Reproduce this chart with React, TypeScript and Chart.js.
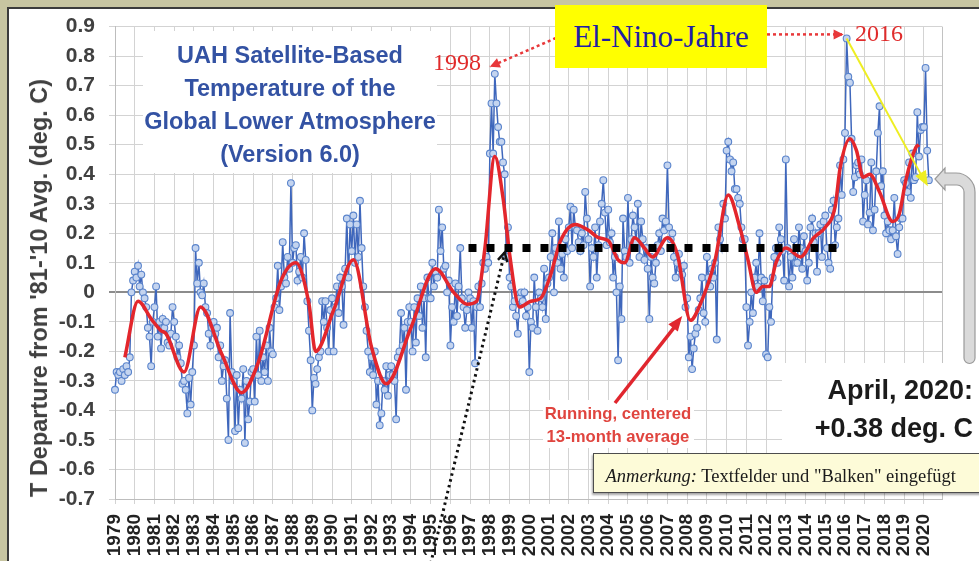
import { useEffect, useRef } from "react";
import { Chart, registerables } from "chart.js";

Chart.register(...registerables);

// ---------- data ----------
const yearLabels: string[] = [
  "1979", "1980", "1981", "1982", "1983", "1984", "1985", "1986", "1987", "1988",
  "1989", "1990", "1991", "1992", "1993", "1994", "1995", "1996", "1997", "1998",
  "1999", "2000", "2001", "2002", "2003", "2004", "2005", "2006", "2007", "2008",
  "2009", "2010", "2011", "2012", "2013", "2014", "2015", "2016", "2017", "2018",
  "2019", "2020",
];

// monthly anomaly (deg. C), Jan 1979 .. Apr 2020
const monthlyAnomaly: number[] = [
  -0.33, -0.27, -0.28, -0.27, -0.30, -0.26, -0.28, -0.25, -0.27, -0.22, 0.00, 0.04,
  0.07, 0.05, 0.09, 0.02, 0.06, 0.00, -0.02, -0.05, -0.12, -0.15, -0.25, -0.10,
  -0.05, 0.02, -0.15, -0.10, -0.19, -0.09, -0.12, -0.10, -0.17, -0.18, -0.14, -0.05,
  -0.10, -0.15, -0.22, -0.18, -0.24, -0.31, -0.30, -0.33, -0.41, -0.29, -0.38, -0.27,
  -0.18, 0.15, 0.03, 0.10, 0.00, -0.01, 0.03, -0.05, -0.07, -0.14, -0.18, -0.12,
  -0.10, -0.14, -0.12, -0.22, -0.18, -0.30, -0.25, -0.23, -0.36, -0.50, -0.07, -0.27,
  -0.30, -0.47, -0.28, -0.46, -0.33, -0.36, -0.26, -0.51, -0.30, -0.43, -0.37, -0.27,
  -0.26, -0.37, -0.15, -0.28, -0.13, -0.30, -0.22, -0.27, -0.18, -0.30, -0.12, -0.20,
  -0.21, -0.05, -0.02, 0.09, -0.06, 0.02, 0.17, 0.05, 0.03, 0.12, 0.08, 0.37,
  0.10, 0.15, 0.16, 0.04, 0.07, 0.12, 0.05, 0.20, 0.11, -0.03, -0.13, -0.23,
  -0.40, -0.29, -0.31, -0.26, -0.22, -0.20, -0.03, -0.10, -0.03, -0.12, -0.20, -0.06,
  -0.02, -0.20, -0.05, 0.02, -0.07, 0.05, 0.02, -0.11, 0.08, 0.25, 0.05, 0.23,
  0.14, 0.26, 0.10, 0.23, 0.12, 0.31, 0.15, 0.02, -0.05, -0.13, -0.20, -0.27,
  -0.22, -0.28, -0.20, -0.38, -0.30, -0.45, -0.41, -0.30, -0.33, -0.25, -0.35, -0.28,
  -0.25, -0.28, -0.30, -0.43, -0.22, -0.20, -0.07, -0.18, -0.12, -0.33, -0.10, -0.05,
  -0.10, -0.20, -0.05, -0.17, -0.02, -0.08, 0.02, -0.12, -0.02, -0.22, 0.05, -0.02,
  -0.02, 0.10, 0.02, 0.07, 0.05, 0.28, 0.14, 0.22, 0.08, 0.09, 0.00, 0.04,
  -0.18, -0.05, -0.10, 0.03, -0.08, 0.02, 0.15, -0.02, -0.05, -0.12, -0.06, 0.00,
  -0.02, -0.12, -0.03, -0.24, -0.05, 0.02, -0.05, 0.03, 0.10, 0.08, 0.12, 0.10,
  0.47, 0.64, 0.47, 0.74, 0.64, 0.56, 0.51, 0.51, 0.44, 0.40, 0.12, 0.22,
  0.05, 0.02, -0.05, -0.03, -0.08, -0.14, -0.02, 0.00, -0.03, 0.00, -0.08, -0.05,
  -0.27, -0.10, -0.12, 0.05, -0.05, -0.13, 0.00, -0.02, -0.05, 0.08, -0.09, 0.03,
  0.05, 0.12, 0.20, 0.00, 0.15, 0.10, 0.24, 0.08, 0.13, 0.05, 0.18, 0.14,
  0.22, 0.29, 0.15, 0.28, 0.22, 0.21, 0.17, 0.14, 0.20, 0.16, 0.34, 0.25,
  0.18, 0.02, 0.15, 0.12, 0.22, 0.05, 0.16, 0.24, 0.30, 0.38, 0.27, 0.16,
  0.28, 0.17, 0.20, 0.05, 0.12, 0.00, -0.23, 0.02, -0.09, 0.25, 0.14, 0.12,
  0.32, 0.10, 0.18, 0.26, 0.22, 0.17, 0.30, 0.12, 0.24, 0.18, 0.11, 0.15,
  0.08, -0.09, 0.12, 0.05, 0.03, 0.10, 0.16, 0.20, 0.14, 0.25, 0.21, 0.24,
  0.43, 0.22, 0.18, 0.20, 0.12, 0.05, 0.10, 0.13, 0.08, 0.06, 0.09, -0.05,
  -0.02, -0.22, -0.15, -0.26, -0.19, -0.14, -0.12, -0.06, -0.02, 0.05, -0.07, -0.10,
  0.12, 0.05, 0.02, 0.08, 0.05, 0.10, -0.16, 0.22, 0.18, 0.15, 0.30, 0.25,
  0.48, 0.51, 0.45, 0.41, 0.44, 0.35, 0.35, 0.32, 0.30, 0.22, 0.18, 0.18,
  -0.05, -0.18, -0.10, 0.00, -0.07, 0.05, 0.10, 0.02, 0.20, 0.05, -0.03, 0.04,
  -0.21, -0.22, -0.05, -0.10, 0.05, 0.12, 0.15, 0.10, 0.22, 0.18, 0.14, 0.04,
  0.45, 0.15, 0.02, 0.12, 0.05, 0.18, 0.10, 0.10, 0.22, 0.15, 0.08, 0.19,
  0.14, 0.04, 0.10, 0.22, 0.25, 0.17, 0.20, 0.07, 0.20, 0.23, 0.12, 0.24,
  0.26, 0.15, 0.10, 0.08, 0.28, 0.31, 0.16, 0.22, 0.25, 0.43, 0.33, 0.45,
  0.54, 0.86, 0.73, 0.71, 0.52, 0.34, 0.39, 0.43, 0.44, 0.40, 0.45, 0.24,
  0.33, 0.38, 0.23, 0.27, 0.44, 0.21, 0.28, 0.41, 0.54, 0.63, 0.36, 0.41,
  0.26, 0.20, 0.24, 0.21, 0.18, 0.21, 0.32, 0.19, 0.13, 0.22, 0.25, 0.25,
  0.38, 0.37, 0.34, 0.44, 0.32, 0.47, 0.38, 0.39, 0.61, 0.46, 0.55, 0.56,
  0.56, 0.76, 0.48, 0.38,
];

// running, centered 13-month average, month index since Jan 1979
const runningMonths: number[] = [
  6, 14, 22, 28, 31, 42, 52, 65, 77, 87, 101, 110, 118, 122, 133, 145, 156, 165, 180, 195,
  206, 214, 220, 225, 231, 236, 240, 246, 253, 259, 265, 271, 280, 288, 294, 300, 306, 310,
  316, 322, 327, 336, 342, 350, 356, 365, 373, 380, 385, 390, 394, 398, 402, 408, 417, 425,
  432, 438, 441, 447, 451, 455, 459, 465, 473, 477, 481, 487, 489,
];
const runningValues: number[] = [
  -0.22, -0.03, -0.09, -0.13, -0.14, -0.27, -0.05, -0.21, -0.34, -0.24, 0.04, 0.10, -0.04, -0.20,
  -0.06, 0.11, -0.185, -0.31, -0.12, 0.08, 0.0, -0.04, -0.03, 0.15, 0.46, 0.32, 0.13, -0.05,
  -0.03, -0.02, 0.06, 0.175, 0.23, 0.21, 0.185, 0.175, 0.11, 0.10, 0.185, 0.15, 0.12, 0.185,
  0.13, -0.095, -0.04, 0.11, 0.33, 0.22, 0.11, 0.0, 0.02, 0.02, 0.10, 0.15, 0.12, 0.185, 0.22,
  0.29, 0.42, 0.52, 0.48, 0.39, 0.40, 0.34, 0.24, 0.265, 0.38, 0.49, 0.50,
];

const yMin = -0.7;
const yMax = 0.9;
const yStep = 0.1;
const xMaxMonth = 503;

// "Balken" (dotted bar) and annotation anchors
const barValue = 0.15;
const barStartMonth = 215;
const barEndMonth = 442;
const peak1998Month = 231;
const peak2016Month = 445;
const lastMonth = 495;
const dipArrowMonth = 345;
const dipArrowValue = -0.08;
const barArrowMonth = 237;
const barArrowValue = 0.135;

// ---------- helpers ----------
function arrowHead(
  ctx: CanvasRenderingContext2D,
  fx: number, fy: number, tx: number, ty: number,
  len: number, half: number, color: string
) {
  const a = Math.atan2(ty - fy, tx - fx);
  ctx.save();
  ctx.setLineDash([]);
  ctx.fillStyle = color;
  ctx.beginPath();
  ctx.moveTo(tx, ty);
  ctx.lineTo(tx - len * Math.cos(a) + half * Math.sin(a), ty - len * Math.sin(a) - half * Math.cos(a));
  ctx.lineTo(tx - len * Math.cos(a) - half * Math.sin(a), ty - len * Math.sin(a) + half * Math.cos(a));
  ctx.closePath();
  ctx.fill();
  ctx.restore();
}

const decorPlugin = {
  id: "decor",
  beforeDraw(chart: any) {
    const { ctx, width, height } = chart;
    ctx.save();
    ctx.fillStyle = "#c7c5a1";
    ctx.fillRect(0, 0, width, height);
    ctx.fillStyle = "#ffffff";
    ctx.fillRect(8, 8, width - 8, height - 8);
    ctx.strokeStyle = "#3b3b3b";
    ctx.lineWidth = 2;
    ctx.beginPath();
    ctx.moveTo(8, height);
    ctx.lineTo(8, 8);
    ctx.lineTo(width, 8);
    ctx.stroke();
    ctx.restore();
  },
  beforeDatasetsDraw(chart: any) {
    const { ctx, chartArea } = chart;
    ctx.save();
    ctx.fillStyle = "#ffffff";
    ctx.fillRect(143, 31, 294, 142);
    ctx.fillRect(543, 400, 151, 48);
    ctx.fillRect(782, 363, 197, 90);
    ctx.strokeStyle = "#c2c2c2";
    ctx.lineWidth = 1;
    ctx.beginPath();
    ctx.moveTo(chartArea.right + 0.5, chartArea.top);
    ctx.lineTo(chartArea.right + 0.5, 363);
    ctx.moveTo(chartArea.right + 0.5, 453);
    ctx.lineTo(chartArea.right + 0.5, chartArea.bottom);
    ctx.stroke();
    ctx.restore();
  },
  afterDatasetsDraw(chart: any) {
    const { ctx } = chart;
    const xs = chart.scales.x;
    const ys = chart.scales.y;
    ctx.save();

    // dotted black bar
    ctx.strokeStyle = "#000000";
    ctx.lineWidth = 8;
    ctx.setLineDash([8, 10]);
    ctx.lineCap = "butt";
    ctx.beginPath();
    ctx.moveTo(xs.getPixelForValue(barStartMonth), ys.getPixelForValue(barValue));
    ctx.lineTo(xs.getPixelForValue(barEndMonth), ys.getPixelForValue(barValue));
    ctx.stroke();

    // red dotted arrows from the El-Nino box
    const red = "#e8383a";
    ctx.strokeStyle = red;
    ctx.lineWidth = 2.5;
    ctx.setLineDash([3, 3]);
    const p98x = xs.getPixelForValue(peak1998Month) - 5;
    const p98y = ys.getPixelForValue(monthlyAnomaly[peak1998Month]) - 7;
    ctx.beginPath();
    ctx.moveTo(556, 38);
    ctx.lineTo(p98x, p98y);
    ctx.stroke();
    arrowHead(ctx, 556, 38, p98x, p98y, 10, 5, red);

    const p16x = xs.getPixelForValue(peak2016Month) - 3;
    const p16y = ys.getPixelForValue(monthlyAnomaly[peak2016Month]) - 4;
    ctx.beginPath();
    ctx.moveTo(767, p16y);
    ctx.lineTo(p16x, p16y);
    ctx.stroke();
    arrowHead(ctx, 767, p16y, p16x, p16y, 10, 5, red);

    // yellow arrow from 2016 peak to the latest month
    const yfx = xs.getPixelForValue(peak2016Month);
    const yfy = ys.getPixelForValue(monthlyAnomaly[peak2016Month]);
    const ytx = xs.getPixelForValue(lastMonth) - 1;
    const yty = ys.getPixelForValue(monthlyAnomaly[lastMonth]) + 6;
    ctx.setLineDash([]);
    ctx.strokeStyle = "#eeee22";
    ctx.lineWidth = 2;
    ctx.beginPath();
    ctx.moveTo(yfx, yfy);
    ctx.lineTo(ytx - 6, yty - 10);
    ctx.stroke();
    arrowHead(ctx, yfx, yfy, ytx, yty, 15, 6, "#eeee22");

    // red solid arrow from the "Running" label
    const dtx = xs.getPixelForValue(dipArrowMonth);
    const dty = ys.getPixelForValue(dipArrowValue);
    ctx.strokeStyle = "#e0262e";
    ctx.lineWidth = 3.5;
    ctx.beginPath();
    ctx.moveTo(615, 403);
    ctx.lineTo(dtx - 6, dty + 9);
    ctx.stroke();
    arrowHead(ctx, 615, 403, dtx, dty, 15, 6, "#e0262e");

    // black dotted arrow up to the bar
    const btx = xs.getPixelForValue(barArrowMonth);
    const bty = ys.getPixelForValue(barArrowValue);
    ctx.strokeStyle = "#111111";
    ctx.lineWidth = 3;
    ctx.setLineDash([2.5, 3.5]);
    ctx.beginPath();
    ctx.moveTo(428, 575);
    ctx.lineTo(btx, bty);
    ctx.stroke();
    ctx.setLineDash([]);
    ctx.lineWidth = 2.5;
    const ba = Math.atan2(bty - 575, btx - 428);
    ctx.beginPath();
    ctx.moveTo(btx - 10 * Math.cos(ba - 0.5), bty - 10 * Math.sin(ba - 0.5));
    ctx.lineTo(btx, bty);
    ctx.lineTo(btx - 10 * Math.cos(ba + 0.5), bty - 10 * Math.sin(ba + 0.5));
    ctx.stroke();

    // grey curved arrow at the right
    ctx.fillStyle = "#dadada";
    ctx.strokeStyle = "#9a9a9a";
    ctx.lineWidth = 1.2;
    ctx.beginPath();
    ctx.moveTo(935, 179);
    ctx.lineTo(945, 168);
    ctx.lineTo(945, 173);
    ctx.lineTo(956, 173);
    ctx.arcTo(975, 173, 975, 192, 19);
    ctx.lineTo(975, 358);
    ctx.arc(969.5, 358, 5.5, 0, Math.PI);
    ctx.lineTo(964, 192);
    ctx.arcTo(964, 185, 957, 185, 7);
    ctx.lineTo(945, 185);
    ctx.lineTo(945, 190);
    ctx.closePath();
    ctx.fill();
    ctx.stroke();

    ctx.restore();
  },
};

const sans = "'Liberation Sans', Arial, sans-serif";
const serif = "'Liberation Serif', 'Times New Roman', serif";

export default function App() {
  const canvasRef = useRef<HTMLCanvasElement | null>(null);

  useEffect(() => {
    if (!canvasRef.current) return;
    const chart = new Chart(canvasRef.current, {
      type: "line",
      data: {
        datasets: [
          {
            label: "Running, centered 13-month average",
            data: runningMonths.map((m, i) => ({ x: m, y: runningValues[i] })),
            borderColor: "#e3262c",
            borderWidth: 3.5,
            pointRadius: 0,
            cubicInterpolationMode: "monotone",
            fill: false,
          },
          {
            label: "UAH monthly",
            data: monthlyAnomaly.map((v, i) => ({ x: i, y: v })),
            borderColor: "#3f67bc",
            borderWidth: 1.5,
            pointRadius: 3.4,
            pointBackgroundColor: "#c4d4ef",
            pointBorderColor: "#5a84cc",
            pointBorderWidth: 1.1,
            tension: 0,
            fill: false,
            clip: false,
          },
        ],
      } as any,
      options: {
        animation: false,
        responsive: true,
        maintainAspectRatio: false,
        events: [],
        layout: { padding: { left: 0, right: 37, top: 25, bottom: 0 } },
        plugins: { legend: { display: false }, tooltip: { enabled: false } },
        scales: {
          x: {
            type: "linear",
            min: 0,
            max: xMaxMonth,
            afterBuildTicks: (scale: any) => {
              scale.ticks = yearLabels.map((_, i) => ({ value: i * 12 }));
            },
            afterFit: (scale: any) => {
              scale.height = 62;
            },
            ticks: {
              autoSkip: false,
              minRotation: 90,
              maxRotation: 90,
              padding: 10,
              color: "#222222",
              font: { family: sans, size: 19, weight: "bold" },
              callback: (v: any) => yearLabels[Math.round(Number(v) / 12)] ?? "",
            },
            grid: { color: "#d3d3d3", lineWidth: 1, tickLength: 5 },
            border: { color: "#bdbdbd", width: 1 },
          },
          y: {
            type: "linear",
            min: yMin,
            max: yMax,
            afterFit: (scale: any) => {
              scale.width = 115;
            },
            ticks: {
              stepSize: yStep,
              padding: 14,
              color: "#404040",
              font: { family: sans, size: 21, weight: "bold" },
              callback: (v: any) => {
                const n = Number(v);
                return Math.abs(n) < 1e-6 ? "0" : n.toFixed(1);
              },
            },
            grid: {
              color: (c: any) => (Math.abs(c.tick?.value ?? 1) < 1e-6 ? "#8c8c8c" : "#d3d3d3"),
              lineWidth: (c: any) => (Math.abs(c.tick?.value ?? 1) < 1e-6 ? 2 : 1),
              tickLength: 6,
            },
            border: { color: "#bdbdbd", width: 1 },
          },
        },
      } as any,
      plugins: [decorPlugin as any],
    });
    return () => chart.destroy();
  }, []);

  return (
    <div
      style={{
        position: "fixed",
        left: 0,
        top: 0,
        width: 979,
        height: 561,
        overflow: "hidden",
      }}
    >
      <div style={{ position: "absolute", left: 0, top: 0, width: 979, height: 561 }}>
        <canvas ref={canvasRef} style={{ display: "block" }} />
      </div>

      {/* y axis title */}
      <div
        style={{
          position: "absolute",
          left: 39,
          top: 287.5,
          transform: "translate(-50%, -50%) rotate(-90deg)",
          font: `bold 23.5px ${sans}`,
          lineHeight: "26px",
          color: "#404040",
          whiteSpace: "nowrap",
        }}
      >
        T Departure from '81-'10 Avg. (deg. C)
      </div>

      {/* chart title */}
      <div
        style={{
          position: "absolute",
          left: 290,
          top: 38.5,
          transform: "translateX(-50%)",
          textAlign: "center",
          font: `bold 23.5px ${sans}`,
          lineHeight: "33px",
          color: "#3352a3",
          whiteSpace: "nowrap",
        }}
      >
        UAH Satellite-Based
        <br />
        Temperature of the
        <br />
        Global Lower Atmosphere
        <br />
        (Version 6.0)
      </div>

      {/* year labels near the peaks */}
      <div
        style={{
          position: "absolute",
          left: 433,
          top: 50,
          font: `24px ${serif}`,
          lineHeight: "24px",
          color: "#e02b2b",
          whiteSpace: "nowrap",
        }}
      >
        1998
      </div>
      <div
        style={{
          position: "absolute",
          left: 855,
          top: 21,
          font: `24px ${serif}`,
          lineHeight: "24px",
          color: "#e02b2b",
          whiteSpace: "nowrap",
        }}
      >
        2016
      </div>

      {/* El-Nino box */}
      <div
        style={{
          position: "absolute",
          left: 555,
          top: 5,
          width: 212,
          height: 63,
          background: "#ffff00",
          font: `31px ${serif}`,
          lineHeight: "63px",
          textAlign: "center",
          color: "#1f1fa6",
          whiteSpace: "nowrap",
        }}
      >
        El-Nino-Jahre
      </div>

      {/* running average label */}
      <div
        style={{
          position: "absolute",
          left: 618,
          top: 401.5,
          transform: "translateX(-50%)",
          textAlign: "center",
          font: `bold 16.7px ${sans}`,
          lineHeight: "23px",
          color: "#e0453f",
          whiteSpace: "nowrap",
        }}
      >
        Running, centered
        <br />
        13-month average
      </div>

      {/* latest value */}
      <div
        style={{
          position: "absolute",
          right: 6,
          top: 371,
          textAlign: "right",
          font: `bold 27px ${sans}`,
          lineHeight: "38px",
          color: "#1b1b1b",
          whiteSpace: "nowrap",
        }}
      >
        April, 2020:
        <br />
        +0.38 deg. C
      </div>

      {/* note */}
      <div
        style={{
          position: "absolute",
          left: 593,
          top: 453,
          width: 420,
          boxSizing: "border-box",
          background: "#fdfbd8",
          border: "1.5px solid #4d4d4d",
          boxShadow: "-1px 2px 2px rgba(0,0,0,0.35)",
          font: `18.5px ${serif}`,
          lineHeight: "32px",
          paddingTop: 6,
          paddingLeft: 11.5,
          color: "#1a1a1a",
          whiteSpace: "nowrap",
        }}
      >
        <i>Anmerkung:</i> Textfelder und "Balken" eingefügt
      </div>
    </div>
  );
}
